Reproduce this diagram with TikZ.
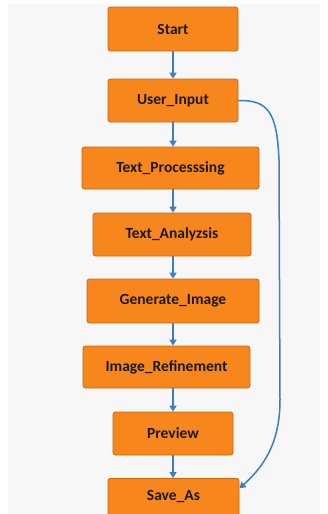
\documentclass[tikz,border=0pt]{standalone}
\usepackage{fontspec}
\setmainfont{Carlito}
\usetikzlibrary{arrows.meta}
\definecolor{boxfill}{HTML}{F7871C}
\definecolor{boxline}{HTML}{C9680F}
\definecolor{arrowc}{HTML}{3D7DC6}
\definecolor{bgc}{HTML}{F7F7F7}
\begin{document}
\begin{tikzpicture}[x=1pt,y=-1pt,
  stepbox/.style={draw=boxline,fill=boxfill,line width=0.8pt,rounded corners=2.5pt,
    inner sep=0pt,font=\fontsize{15.5}{18}\selectfont\bfseries,text=black!90},
  arr/.style={draw=arrowc,line width=1.5pt,-{Triangle[length=6pt,width=7pt]}}]
\useasboundingbox (0,0) rectangle (328,514);
\clip (0,0) rectangle (328,514);
\fill[white] (0,0) rectangle (328,514);
\fill[bgc] (8,4) rectangle (320,514);
\node[stepbox,minimum width=130pt,minimum height=44pt] (s) at (173,29) {Start};
\node[stepbox,minimum width=130pt,minimum height=43pt] (u) at (173,100.5) {User\_Input};
\node[stepbox,minimum width=177pt,minimum height=42pt] (tp) at (170.5,168) {Text\_Processsing};
\node[stepbox,minimum width=158pt,minimum height=43pt] (ta) at (172,234.5) {Text\_Analyzsis};
\node[stepbox,minimum width=172pt,minimum height=44pt] (g) at (173,301) {Generate\_Image};
\node[stepbox,minimum width=167pt,minimum height=42pt] (ir) at (166.5,367) {Image\_Refinement};
\node[stepbox,minimum width=120pt,minimum height=43pt] (p) at (173,433.5) {Preview};
\node[stepbox,minimum width=131pt,minimum height=40pt,anchor=north] (sa) at (173.5,478) {\raisebox{6pt}{Save\_As}};
\draw[arr] (s.south) -- (u.north -| s.south);
\draw[arr] (u.south) -- (tp.north -| s.south);
\draw[arr] (tp.south -| s.south) -- (ta.north -| s.south);
\draw[arr] (ta.south -| s.south) -- (g.north -| s.south);
\draw[arr] (g.south -| s.south) -- (ir.north -| s.south);
\draw[arr] (ir.south -| s.south) -- (p.north -| s.south);
\draw[arr] (p.south -| s.south) -- (sa.north -| s.south);
\coordinate (c1) at (279,160);
\coordinate (c2) at (280,400);
\draw[arr] (u.east) .. controls (268,100) and (277,112) .. (c1) -- (c2)
  .. controls (280,445) and (262,468) .. ([yshift=10pt]sa.east);
\end{tikzpicture}
\end{document}
